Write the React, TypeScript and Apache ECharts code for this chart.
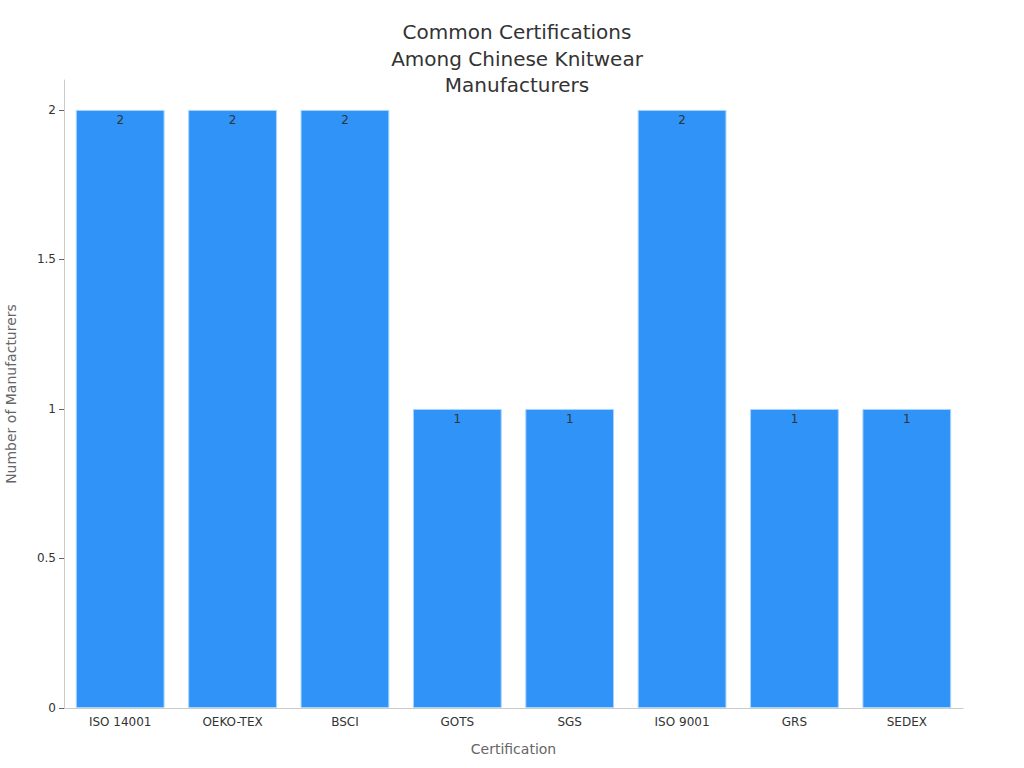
import React, { useEffect, useRef } from "react";
import * as echarts from "echarts";

const categories = ["ISO 14001", "OEKO-TEX", "BSCI", "GOTS", "SGS", "ISO 9001", "GRS", "SEDEX"];
const counts = [2, 2, 2, 1, 1, 2, 1, 1];
const yTicks = [0, 0.5, 1, 1.5, 2];

const FONT = "DejaVu Sans";

export default function App() {
  const ref = useRef<HTMLDivElement>(null);
  useEffect(() => {
    const chart = echarts.init(ref.current!, null, { renderer: "svg" });
    chart.setOption({
      animation: false,
      backgroundColor: "#ffffff",
      textStyle: { fontFamily: FONT },
      title: {
        text: "Common Certifications\nAmong Chinese Knitwear\nManufacturers",
        left: 512,
        top: 14,
        textAlign: "center",
        textStyle: { fontSize: 20, fontWeight: "normal", color: "#333333", lineHeight: 26.5, fontFamily: FONT },
      },
      grid: { left: 64, right: 61, top: 80, bottom: 60, containLabel: false, outerBoundsMode: "none" },
      xAxis: {
        type: "category",
        data: categories,
        name: "Certification",
        nameLocation: "middle",
        nameGap: 34,
        nameTextStyle: { fontSize: 14, color: "#666666", fontFamily: FONT },
        axisLine: { lineStyle: { color: "#cccccc" } },
        axisTick: { alignWithLabel: true, length: 5, lineStyle: { color: "#666666" } },
        axisLabel: { fontSize: 12, color: "#333333", margin: 8, fontFamily: FONT },
      },
      yAxis: {
        type: "value",
        min: 0,
        max: 2.1,
        interval: 0.5,
        name: "Number of Manufacturers",
        nameLocation: "middle",
        nameGap: 46,
        nameTextStyle: { fontSize: 14, color: "#666666", fontFamily: FONT },
        axisLine: { show: true, lineStyle: { color: "#cccccc" } },
        axisTick: { show: true, length: 5, lineStyle: { color: "#666666" }, customValues: yTicks },
        axisLabel: { fontSize: 12, color: "#333333", margin: 8, customValues: yTicks, fontFamily: FONT },
        splitLine: { show: false },
      },
      series: [
        {
          type: "bar",
          data: counts,
          barCategoryGap: "21%",
          itemStyle: { color: "#2f93f8", borderColor: "#a8d4ff", borderWidth: 1 },
          label: {
            show: true,
            position: "insideTop",
            distance: 4,
            color: "#333333",
            fontSize: 12,
            fontFamily: FONT,
          },
        },
      ],
    });
    return () => chart.dispose();
  }, []);
  return (
    <div
      ref={ref}
      style={{ position: "absolute", left: 0, top: 0, width: 1024, height: 768, background: "#ffffff" }}
    />
  );
}
